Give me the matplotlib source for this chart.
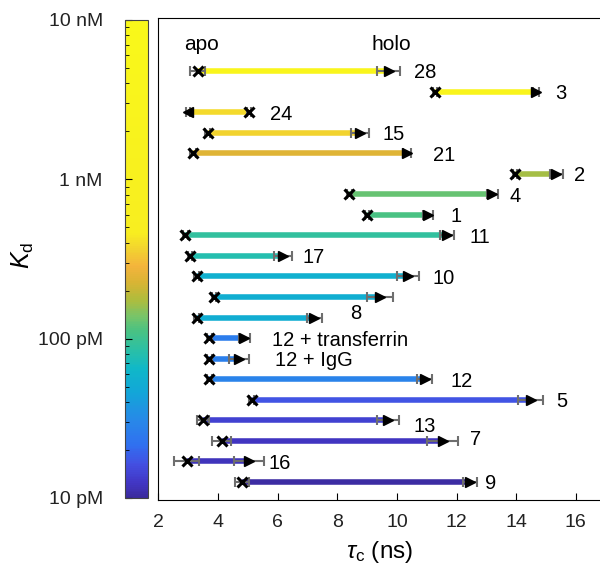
import numpy as np
import matplotlib
matplotlib.use('Agg')
import matplotlib.pyplot as plt
from matplotlib.colors import LinearSegmentedColormap, LogNorm
from matplotlib.cm import ScalarMappable

plt.rcParams['font.family'] = ['Liberation Sans', 'DejaVu Sans']
plt.rcParams['mathtext.fontset'] = 'custom'
plt.rcParams['mathtext.rm'] = 'Liberation Sans'
plt.rcParams['mathtext.it'] = 'Liberation Sans:italic'

# one entry per construct, top to bottom
labels = ['28', '3', '24', '15', '21', '2', '4', '1', '11', '17', '10', '', '8',
          '12 + transferrin', '12 + IgG', '12', '5', '13', '7', '16', '9']
kd_pM = [4000, 3000, 389, 363, 240, 170, 129, 112, 91, 79, 56, 54, 52,
         26, 27, 28, 17, 14, 12.3, 11.9, 10.3]
tau_apo = [3.32, 11.28, 5.04, 3.66, 3.16, 13.96, 8.40, 9.00, 2.90, 3.06, 3.29, 3.87, 3.29,
           3.71, 3.71, 3.71, 5.13, 3.50, 4.12, 2.95, 4.80]
tau_apo_err = [0.25, 0.08, 0.08, 0.08, 0.10, 0.08, 0.08, 0.08, 0.08, 0.08, 0.08, 0.08, 0.08,
               0.08, 0.08, 0.08, 0.08, 0.19, 0.32, 0.42, 0.23]
tau_holo = [9.72, 14.65, 3.00, 8.76, 10.34, 15.35, 13.20, 11.03, 11.68, 6.18, 10.36, 9.43, 7.23,
            4.88, 4.71, 10.94, 14.49, 9.70, 11.53, 5.04, 12.45]
tau_holo_err = [0.38, 0.10, 0.08, 0.30, 0.12, 0.23, 0.18, 0.17, 0.22, 0.30, 0.37, 0.43, 0.25,
                0.18, 0.33, 0.25, 0.42, 0.38, 0.52, 0.50, 0.25]

# text placement for the construct labels (left edge in ns, nudge in rows)
label_x = [10.57, 15.30, 5.74, 9.53, 11.21, 15.95, 13.76, 11.81, 12.45, 6.82, 11.21, 0, 8.43,
           5.82, 5.92, 11.81, 15.33, 10.57, 12.45, 5.71, 12.95]
label_dy = [0, 0, 0, 0, 0, 0, 0, 0, 0, 0, 0, 0, 0.32,
            0, 0, 0, 0, -0.2, 0.15, 0, 0]

# colour scale of the Kd bar
cb_pos = [0.0, 0.03, 0.07, 0.11, 0.16, 0.22, 0.27, 0.31, 0.35, 0.38, 0.415, 0.45, 0.485,
          0.52, 0.555, 1.0]
cb_colors = ['#3b2b9e', '#4236c4', '#4350e2', '#3070f0', '#2888e8', '#12a6d8', '#10b8c8',
             '#2cc0a4', '#4ac282', '#78c468', '#b0bc3c', '#d8b434', '#f4b43c', '#f2d230',
             '#f8ee20', '#f9f81a']
cmap = LinearSegmentedColormap.from_list('kd', list(zip(cb_pos, cb_colors)))
norm = LogNorm(vmin=10, vmax=1e4)

fig = plt.figure(figsize=(6, 5.69), dpi=100)
ax = fig.add_axes([0.2638, 0.1213, 0.7362, 0.8471])
cax = fig.add_axes([0.2083, 0.1248, 0.0383, 0.8401])

n = len(labels)
ypos = np.arange(n)[::-1]
apo = np.array(tau_apo)
holo = np.array(tau_holo)

ax.hlines(ypos, apo, holo, colors=cmap(norm(kd_pM)), lw=4, zorder=2)
for x, xe in [(apo, tau_apo_err), (holo, tau_holo_err)]:
    ax.errorbar(x, ypos, xerr=xe, fmt='none', ecolor='#6e6e6e', elinewidth=1.5,
                capsize=3.4, capthick=1.5, zorder=3)
ax.plot(apo, ypos, 'x', color='k', ms=7, mew=2.2, zorder=4)
right = holo >= apo
ax.plot(holo[right], ypos[right], '>', color='k', ms=6.5, zorder=4)
ax.plot(holo[~right], ypos[~right], '<', color='k', ms=6.5, zorder=4)

for i, lab in enumerate(labels):
    if lab:
        ax.text(label_x[i], ypos[i] + label_dy[i], lab, fontsize=14.5,
                ha='left', va='center_baseline')

ax.text(3.44, n + 0.27, 'apo', fontsize=15, ha='center', va='center')
ax.text(9.80, n + 0.27, 'holo', fontsize=15, ha='center', va='center')

ax.set_xlim(2, 16.81)
ax.set_ylim(-0.876, n + 1.58)
ax.set_yticks([])
ax.set_xticks(np.arange(2, 17, 2))
ax.tick_params(axis='x', direction='in', length=5, labelsize=14, pad=10,
               labelcolor='#222222')
ax.spines['right'].set_visible(False)
ax.set_xlabel(r'$\tau_\mathrm{c}$ (ns)', fontsize=17.5, labelpad=6)

cb = fig.colorbar(ScalarMappable(norm=norm, cmap=cmap), cax=cax, ticklocation='left')
cb.set_ticks([10, 100, 1000, 10000])
cb.set_ticklabels(['10 pM', '100 pM', '1 nM', '10 nM'])
cb.minorticks_on()
cax.tick_params(which='both', direction='in', left=True, right=False, labelsize=14, pad=16,
                labelcolor='#222222')
cax.tick_params(which='major', length=5)
cax.tick_params(which='minor', length=3)
cb.outline.set_edgecolor('#444444')

fig.text(23 / 600, 1 - 255 / 569, r'$K_\mathrm{d}$', rotation=90, fontsize=18,
         ha='center', va='center')

fig.savefig('out.png', dpi=100)
